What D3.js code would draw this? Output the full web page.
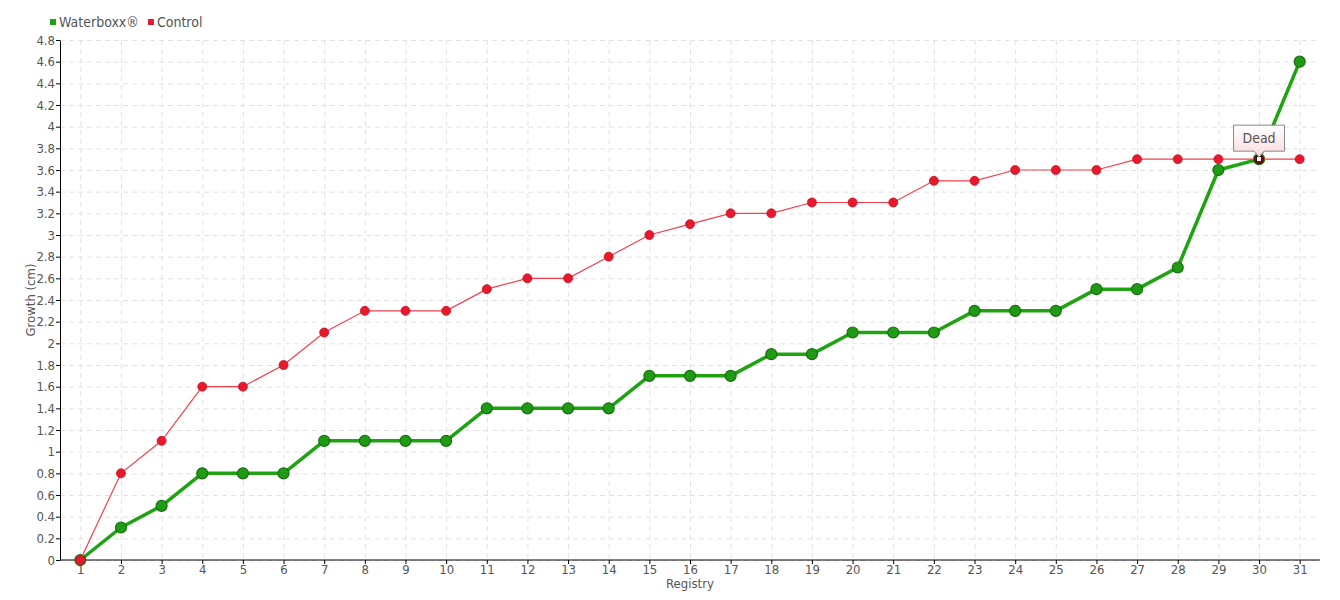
<!DOCTYPE html>
<html>
<head>
<meta charset="utf-8">
<script src="https://cdn.jsdelivr.net/npm/d3@7"></script>
<style>
  body { margin: 0; background: #fff; }
  svg text { font-family: "DejaVu Sans Condensed", "DejaVu Sans", sans-serif; font-stretch: condensed; fill: #555; }
  .grid line { stroke: #e2e2e2; stroke-dasharray: 5,4; }
  .grid path { display: none; }
  .axis path, .axis line { stroke: #000; }
</style>
</head>
<body>
<div id="chart"></div>
<script>
// registry numbers on the x axis
var registry = d3.range(1, 32);
// growth values (cm)
var waterboxx = [0, 0.3, 0.5, 0.8, 0.8, 0.8, 1.1, 1.1, 1.1, 1.1, 1.4, 1.4, 1.4, 1.4, 1.7, 1.7, 1.7, 1.9, 1.9, 2.1, 2.1, 2.1, 2.3, 2.3, 2.3, 2.5, 2.5, 2.7, 3.6, 3.7, 4.6];
var control = [0, 0.8, 1.1, 1.6, 1.6, 1.8, 2.1, 2.3, 2.3, 2.3, 2.5, 2.6, 2.6, 2.8, 3.0, 3.1, 3.2, 3.2, 3.3, 3.3, 3.3, 3.5, 3.5, 3.6, 3.6, 3.6, 3.7, 3.7, 3.7, 3.7, 3.7];
var yTicks = d3.range(0, 49, 2).map(function(d) { return d / 10; });
var seriesNames = ["Waterboxx®", "Control"];
var annotation = { registry: 30, series: "Control", label: "Dead" };

var width = 1340, height = 600;
var margin = { top: 40, right: 20, bottom: 40, left: 60 };

var svg = d3.select("#chart").append("svg")
    .attr("width", width)
    .attr("height", height);

var x = d3.scalePoint()
    .domain(registry)
    .range([margin.left, width - margin.right])
    .padding(0.5);

var y = d3.scaleLinear()
    .domain([0, 4.8])
    .range([height - margin.bottom, margin.top]);

// grid
svg.append("g")
    .attr("class", "grid")
    .attr("transform", "translate(0," + margin.top + ")")
    .call(d3.axisBottom(x).tickSize(height - margin.top - margin.bottom).tickFormat(""));

svg.append("g")
    .attr("class", "grid")
    .attr("transform", "translate(" + margin.left + ",0)")
    .call(d3.axisRight(y).tickValues(yTicks).tickSize(width - margin.left - margin.right).tickFormat(""));

// axes
var xAxis = svg.append("g")
    .attr("class", "axis")
    .attr("transform", "translate(0," + (height - margin.bottom) + ")")
    .call(d3.axisBottom(x).tickSize(4).tickSizeOuter(0));
xAxis.select(".domain").attr("d", "M" + margin.left + ",0H" + (width - margin.right));
xAxis.selectAll("text").style("font-size", "13px").attr("dy", "0.75em").attr("y", 4);

var yAxis = svg.append("g")
    .attr("class", "axis")
    .attr("transform", "translate(" + margin.left + ",0)")
    .call(d3.axisLeft(y).tickValues(yTicks).tickSize(4).tickSizeOuter(0).tickFormat(d3.format("")));
yAxis.selectAll("text").style("font-size", "13px").attr("x", -5);

svg.append("text")
    .attr("x", (margin.left + width - margin.right) / 2)
    .attr("y", 588)
    .attr("text-anchor", "middle")
    .style("font-size", "13px")
    .text("Registry");

svg.append("text")
    .attr("transform", "translate(35," + ((margin.top + height - margin.bottom) / 2) + ")rotate(-90)")
    .attr("text-anchor", "middle")
    .style("font-size", "13px")
    .text("Growth (cm)");

// lines
var line = d3.line()
    .x(function(d, i) { return x(registry[i]); })
    .y(function(d) { return y(d); });

svg.append("path")
    .datum(waterboxx)
    .attr("fill", "none")
    .attr("stroke", "#1fa312")
    .attr("stroke-width", 3.5)
    .attr("stroke-linejoin", "round")
    .attr("d", line);

svg.append("g").selectAll("circle")
    .data(waterboxx)
    .enter().append("circle")
    .attr("cx", function(d, i) { return x(registry[i]); })
    .attr("cy", function(d) { return y(d); })
    .attr("r", 5.5)
    .attr("fill", "#1f9a15")
    .attr("stroke", "#17700f")
    .attr("stroke-width", 1.2);

svg.append("path")
    .datum(control)
    .attr("fill", "none")
    .attr("stroke", "#f2404f")
    .attr("stroke-width", 1.2)
    .attr("d", line);

svg.append("g").selectAll("circle")
    .data(control)
    .enter().append("circle")
    .attr("cx", function(d, i) { return x(registry[i]); })
    .attr("cy", function(d) { return y(d); })
    .attr("r", 4.5)
    .attr("fill", "#e8192c")
    .attr("stroke", "#c8101f")
    .attr("stroke-width", 0.8);

// annotation "Dead"
var ax = x(annotation.registry);
var ay = y(control[registry.indexOf(annotation.registry)]);
svg.append("circle")
    .attr("cx", ax).attr("cy", ay).attr("r", 4.5)
    .attr("fill", "#8a0a10").attr("stroke", "#5a0608");
svg.append("rect")
    .attr("x", ax - 2.5).attr("y", ay - 2.5)
    .attr("width", 5).attr("height", 5)
    .attr("fill", "#fff").attr("stroke", "#000").attr("stroke-width", 0.8);

var grad = svg.append("defs").append("linearGradient")
    .attr("id", "tipGrad").attr("x1", 0).attr("y1", 0).attr("x2", 0).attr("y2", 1);
grad.append("stop").attr("offset", "0%").attr("stop-color", "#ffffff");
grad.append("stop").attr("offset", "100%").attr("stop-color", "#fbd9dc");

var bw = 51, bh = 26, by = ay - 34;
svg.append("path")
    .attr("d", "M" + (ax - bw / 2) + "," + by +
        "h" + bw + "v" + bh + "h" + (-(bw / 2 - 5)) + "l-5,6l-5,-6h" + (-(bw / 2 - 5)) + "z")
    .attr("fill", "url(#tipGrad)")
    .attr("stroke", "#888")
    .attr("stroke-width", 1);
svg.append("text")
    .attr("x", ax).attr("y", by + 18)
    .attr("text-anchor", "middle")
    .style("font-size", "14px")
    .text(annotation.label);

// legend
var legendColors = ["#1fa312", "#e8192c"];
var lx = 50;
seriesNames.forEach(function(name, i) {
    svg.append("rect")
        .attr("x", lx).attr("y", 19)
        .attr("width", 6).attr("height", 6)
        .attr("fill", legendColors[i]);
    var t = svg.append("text")
        .attr("x", lx + 9).attr("y", 27)
        .style("font-size", "14px")
        .text(name);
    lx += 9 + t.node().getComputedTextLength() + 9;
});
</script>
</body>
</html>
